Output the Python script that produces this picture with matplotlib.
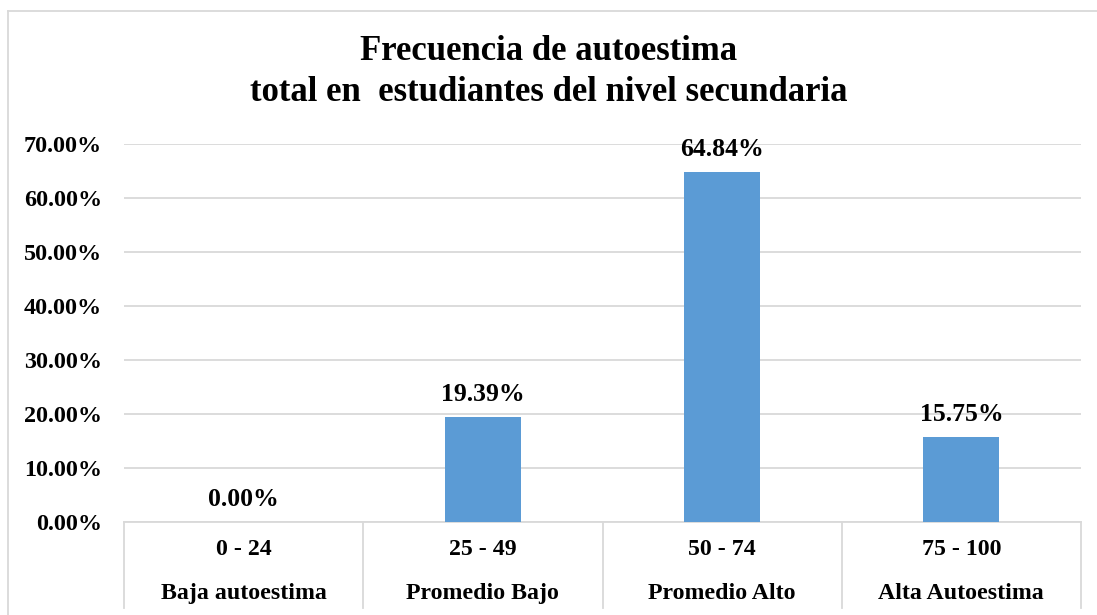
import matplotlib
matplotlib.use("Agg")
import matplotlib.pyplot as plt
from matplotlib.lines import Line2D

rangos = ["0 - 24", "25 - 49", "50 - 74", "75 - 100"]
niveles = ["Baja autoestima", "Promedio Bajo", "Promedio Alto", "Alta Autoestima"]
porcentajes = [0.00, 19.39, 64.84, 15.75]

plt.rcParams['font.family'] = ['Liberation Serif', 'DejaVu Serif']
plt.rcParams['font.weight'] = 'bold'

fig = plt.figure(figsize=(10.97, 6.15), dpi=100)
ax = fig.add_axes([124 / 1097, 1 - 522 / 615, (1081 - 124) / 1097, (522 - 144) / 615])

x = list(range(len(porcentajes)))
ax.bar(x, porcentajes, width=0.318, color='#5B9BD5', zorder=3)
for xi, v in zip(x, porcentajes):
    ax.annotate(f"{v:.2f}%", (xi, v), xytext=(0, 8), textcoords='offset points',
                ha='center', va='bottom', fontsize=18.5, fontweight='bold')

ax.set_xlim(-0.5, len(porcentajes) - 0.5)
ax.set_ylim(0, 70)
ax.set_yticks(range(0, 71, 10))
ax.set_yticklabels([f"{t:.2f}%" for t in range(0, 71, 10)], fontsize=17.4, fontweight='bold')
ax.tick_params(axis='y', length=0, pad=16)
ax.set_xticks([])
ax.grid(axis='y', color='#D9D9D9', linewidth=1.3, zorder=0)
for s in ax.spines.values():
    s.set_visible(False)

# two-level category axis
tr = ax.get_xaxis_transform()
ax.plot([-0.5, len(porcentajes) - 0.5], [0, 0], color='#D9D9D9', lw=1.3, transform=tr, clip_on=False)
for b in range(len(porcentajes) + 1):
    ax.plot([b - 0.5, b - 0.5], [0, -0.2275], color='#D9D9D9', lw=1.3, transform=tr, clip_on=False)
for xi, r, n in zip(x, rangos, niveles):
    ax.text(xi, -0.074, r, transform=tr, ha='center', va='center', fontsize=17.2, fontweight='bold')
    ax.text(xi, -0.188, n, transform=tr, ha='center', va='center', fontsize=17.2, fontweight='bold')

fig.text(0.5, 1 - 72 / 615, "Frecuencia de autoestima\ntotal en  estudiantes del nivel secundaria",
         ha='center', va='center', fontsize=25, fontweight='bold', linespacing=1.32)

# chart frame
fig.add_artist(Line2D([8 / 1097, 1], [1 - 11 / 615, 1 - 11 / 615], color='#D9D9D9', lw=1.3))
fig.add_artist(Line2D([8 / 1097, 8 / 1097], [0, 1 - 11 / 615], color='#D9D9D9', lw=1.3))

fig.savefig("out.png", dpi=100)
